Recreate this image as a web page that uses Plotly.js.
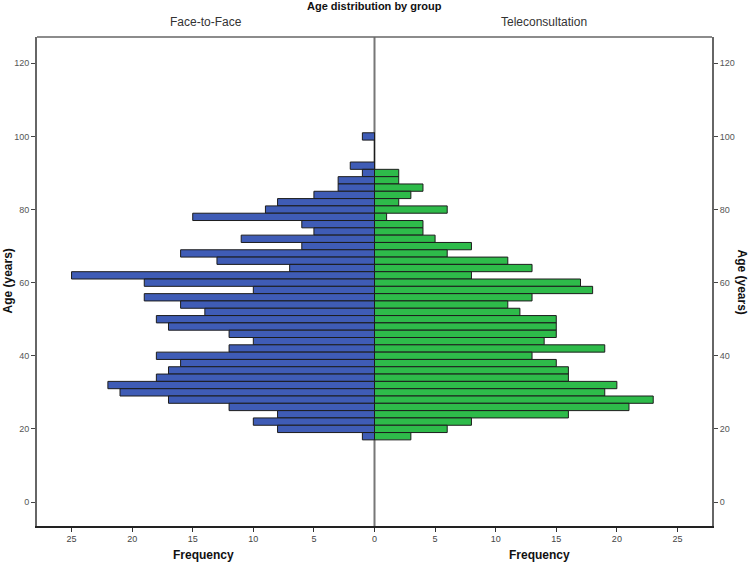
<!DOCTYPE html>
<html>
<head>
<meta charset="utf-8">
<script src="https://cdn.plot.ly/plotly-3.0.1.min.js"></script>
<style>html,body{margin:0;padding:0;background:#fff;}#chart{width:750px;height:562px;}</style>
</head>
<body>
<div id="chart"></div>
<script>
// Age bin centres (years)
var ages = [100, 98, 96, 94, 92, 90, 88, 86, 84, 82, 80, 78, 76, 74, 72, 70, 68, 66, 64, 62, 60,
            58, 56, 54, 52, 50, 48, 46, 44, 42, 40, 38, 36, 34, 32, 30, 28, 26, 24, 22, 20, 18];
// Face-to-Face frequencies
var faceToFace = [1, 0, 0, 0, 2, 1, 3, 3, 5, 8, 9, 15, 6, 5, 11, 6, 16, 13, 7, 25, 19,
                  10, 19, 16, 14, 18, 17, 12, 10, 12, 18, 16, 17, 18, 22, 21, 17, 12, 8, 10, 8, 1];
// Teleconsultation frequencies
var teleconsultation = [0, 0, 0, 0, 0, 2, 2, 4, 3, 2, 6, 1, 4, 4, 5, 8, 6, 11, 13, 8, 17,
                        18, 13, 11, 12, 15, 15, 15, 14, 19, 13, 15, 16, 16, 20, 19, 23, 21, 16, 8, 6, 3];
var freqTicks = [25, 20, 15, 10, 5, 0, 5, 10, 15, 20, 25];
var freqTickVals = [-25, -20, -15, -10, -5, 0, 5, 10, 15, 20, 25];
var ageTicks = [0, 20, 40, 60, 80, 100, 120];
var groupNames = ["Face-to-Face", "Teleconsultation"];

var FONT = "Liberation Sans Narrow, Arial Narrow, Liberation Sans, Arial, sans-serif";

var traces = [
  {
    type: "bar", orientation: "h", name: groupNames[0],
    y: ages, x: faceToFace.map(function (v) { return -v; }),
    width: 2,
    marker: {color: "#3F5CB6", line: {color: "#1c1c1c", width: 1}},
    hoverinfo: "skip"
  },
  {
    type: "bar", orientation: "h", name: groupNames[1],
    y: ages, x: teleconsultation,
    width: 2,
    marker: {color: "#2EBB4A", line: {color: "#1c1c1c", width: 1}},
    hoverinfo: "skip"
  },
  {
    type: "scatter", x: [null], y: [null], yaxis: "y2", showlegend: false, hoverinfo: "skip"
  }
];

var yRange = [-6.56, 127.2];
var layout = {
  width: 750, height: 562,
  margin: {l: 37, r: 38, t: 37, b: 36, pad: 0},
  paper_bgcolor: "#fff", plot_bgcolor: "#fff",
  showlegend: false,
  barmode: "overlay",
  font: {family: FONT, color: "#333"},
  xaxis: {
    range: [-27.85, 27.85],
    tickvals: freqTickVals, ticktext: freqTicks.map(String),
    ticks: "outside", ticklen: 4, tickcolor: "#333",
    tickfont: {size: 9, color: "#444", family: FONT},
    showgrid: false, zeroline: false,
    showline: true, linecolor: "#222", linewidth: 1.5, mirror: false,
    fixedrange: true
  },
  yaxis: {
    range: yRange,
    tickvals: ageTicks, ticktext: ageTicks.map(String),
    ticks: "outside", ticklen: 4, tickcolor: "#444",
    tickfont: {size: 9, color: "#555", family: FONT},
    showgrid: false, zeroline: false,
    showline: true, linecolor: "#666", linewidth: 2,
    fixedrange: true
  },
  yaxis2: {
    overlaying: "y", side: "right", anchor: "x",
    range: yRange,
    tickvals: ageTicks, ticktext: ageTicks.map(String),
    ticks: "outside", ticklen: 4, tickcolor: "#444",
    tickfont: {size: 9, color: "#555", family: FONT},
    showgrid: false, zeroline: false,
    showline: true, linecolor: "#666", linewidth: 2,
    fixedrange: true
  },
  shapes: [
    {type: "line", xref: "x", yref: "paper", x0: 0, x1: 0, y0: 0, y1: 1,
     line: {color: "#777", width: 2}, layer: "below"},
    {type: "line", xref: "paper", yref: "paper", x0: 0, x1: 1, y0: 1, y1: 1,
     line: {color: "#666", width: 1.5}}
  ],
  annotations: [
    {text: "<b>Age distribution by group</b>", xref: "paper", yref: "paper",
     x: 0.5, y: 1, yshift: 31, xanchor: "center", yanchor: "middle", showarrow: false,
     font: {size: 11, color: "#111", family: FONT}},
    {text: groupNames[0], xref: "x", yref: "paper", x: -13.9, y: 1, yshift: 15,
     xanchor: "center", yanchor: "middle", showarrow: false,
     font: {size: 12, color: "#333", family: FONT}},
    {text: groupNames[1], xref: "x", yref: "paper", x: 14, y: 1, yshift: 15,
     xanchor: "center", yanchor: "middle", showarrow: false,
     font: {size: 12, color: "#333", family: FONT}},
    {text: "<b>Frequency</b>", xref: "x", yref: "paper", x: -14.1, y: 0, yshift: -29,
     xanchor: "center", yanchor: "middle", showarrow: false,
     font: {size: 12, color: "#111", family: FONT}},
    {text: "<b>Frequency</b>", xref: "x", yref: "paper", x: 13.6, y: 0, yshift: -29,
     xanchor: "center", yanchor: "middle", showarrow: false,
     font: {size: 12, color: "#111", family: FONT}},
    {text: "<b>Age (years)</b>", xref: "paper", yref: "paper", x: 0, y: 0.5, xshift: -30,
     xanchor: "center", yanchor: "middle", textangle: -90, showarrow: false,
     font: {size: 12, color: "#111", family: FONT}},
    {text: "<b>Age (years)</b>", xref: "paper", yref: "paper", x: 1, y: 0.5, xshift: 30,
     xanchor: "center", yanchor: "middle", textangle: 90, showarrow: false,
     font: {size: 12, color: "#111", family: FONT}}
  ]
};

Plotly.newPlot("chart", traces, layout, {staticPlot: true, displayModeBar: false});
</script>
</body>
</html>
